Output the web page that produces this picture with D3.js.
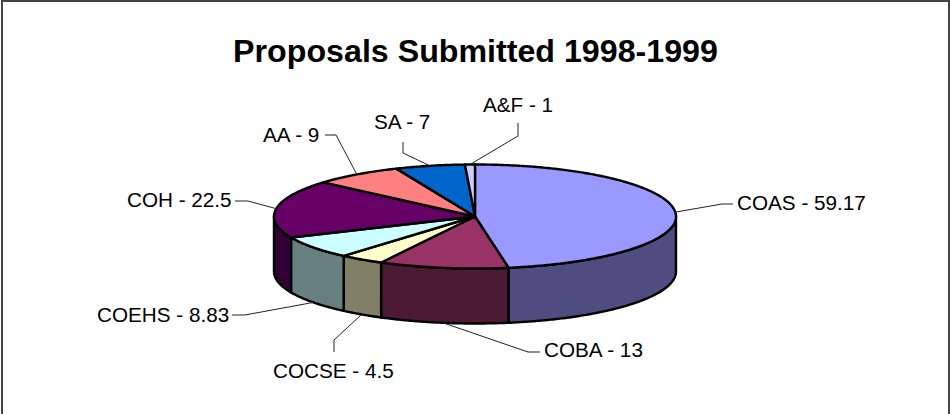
<!DOCTYPE html>
<html><head><meta charset="utf-8">
<script src="https://cdn.jsdelivr.net/npm/d3@7"></script>
<style>html,body{margin:0;padding:0;background:#fff}svg{display:block}text{font-family:"Liberation Sans",Arial,sans-serif;fill:#000}</style>
</head><body><svg id="c" width="950" height="414"></svg>
<script>
const categories = ["COAS","COBA","COCSE","COEHS","COH","AA","SA","A&F"];
const values = [59.17,13,4.5,8.83,22.5,9,7,1];
const valueLabels = ["59.17","13","4.5","8.83","22.5","9","7","1"];
const topColors = ["#9999ff","#993366","#ffffcc","#ccffff","#660066","#ff8080","#0066cc","#ccccff"];
const sideColors = ["#4d4d80","#4d1a33","#808066","#668080","#330033","#804040","#003366","#666680"];
const chartTitle = "Proposals Submitted 1998-1999";
const labelLayout = [
 {tx:737,ty:210,elbow:[[722,204],[733,204]]},
 {tx:544,ty:357,elbow:[[528,352],[540,352]]},
 {tx:273,ty:378,elbow:[[334,340],[334,352]]},
 {tx:97,ty:322,elbow:[[245,315],[232,315]]},
 {tx:127,ty:207,elbow:[[248,201],[235,201]]},
 {tx:263,ty:142,elbow:[[336,135],[325,135]]},
 {tx:374,ty:129,elbow:[[403,153],[403,142]]},
 {tx:483,ty:112,elbow:[[518,136],[518,123]]}
];
const W=950,H=414,cx=475,cy=216.5,rx=201,ry=52,depth=55;
const svg=d3.select("#c");
svg.append("rect").attr("x",2).attr("y",1).attr("width",W-3).attr("height",H+10).attr("fill","#fff").attr("stroke","#444").attr("stroke-width",2);
svg.append("text").attr("x",475.5).attr("y",62).attr("text-anchor","middle").attr("font-weight","bold").attr("font-size",32.2).text(chartTitle);

const arcs=d3.pie().sort(null).startAngle(0).endAngle(2*Math.PI)(values);
const px=t=>cx+rx*Math.sin(t), py=t=>cy-ry*Math.cos(t);
const ell=(a,b,dy)=>{const n=Math.max(2,Math.ceil(Math.abs(b-a)/0.01));
  return d3.range(n+1).map(i=>{const t=a+(b-a)*i/n;return [px(t),py(t)+dy];});};
const line=d3.line();
const HALF=Math.PI/2, TH=3*Math.PI/2;
const sides=arcs.map((d,i)=>({i,a:Math.max(d.startAngle,HALF),b:Math.min(d.endAngle,TH)})).filter(s=>s.b>s.a);
svg.append("g").selectAll("path").data(sides).join("path")
 .attr("d",s=>line([...ell(s.a,s.b,0),...ell(s.b,s.a,depth)])+"Z")
 .attr("fill",s=>sideColors[s.i]).attr("stroke","#000").attr("stroke-width",2.4).attr("stroke-linejoin","round");
svg.append("g").selectAll("path").data(arcs).join("path")
 .attr("d",d=>line([[cx,cy],...ell(d.startAngle,d.endAngle,0)])+"Z")
 .attr("fill",(d,i)=>topColors[i]).attr("stroke","#000").attr("stroke-width",2.4).attr("stroke-linejoin","round");
const anchors=arcs.map(d=>{const m=(d.startAngle+d.endAngle)/2;
  const onSide=Math.cos(m)<-0.3;return [px(m),py(m)+(onSide?depth:0)];});
svg.append("g").selectAll("path").data(arcs).join("path")
 .attr("d",(d,i)=>line([anchors[i],...labelLayout[i].elbow]))
 .attr("fill","none").attr("stroke","#222").attr("stroke-width",1);
svg.append("g").selectAll("text").data(categories).join("text")
 .attr("x",(d,i)=>labelLayout[i].tx).attr("y",(d,i)=>labelLayout[i].ty)
 .attr("font-size",20.7)
 .text((d,i)=>`${d} - ${valueLabels[i]}`);
</script></body></html>
